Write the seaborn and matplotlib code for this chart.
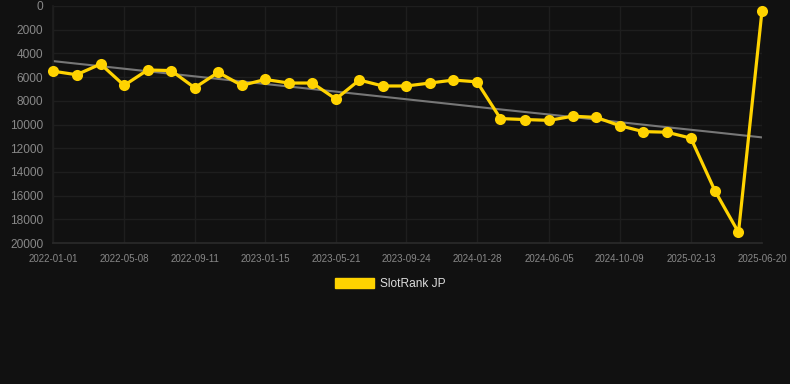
import pandas as pd
import numpy as np
import matplotlib
matplotlib.use("Agg")
import matplotlib.pyplot as plt
from matplotlib.patches import Patch
import seaborn as sns

# --- data ---
dates = [
    "2022-01-01", "2022-02-12", "2022-03-27", "2022-05-08", "2022-06-19", "2022-07-31",
    "2022-09-11", "2022-10-23", "2022-12-04", "2023-01-15", "2023-02-26", "2023-04-09",
    "2023-05-21", "2023-07-02", "2023-08-13", "2023-09-24", "2023-11-05", "2023-12-17",
    "2024-01-28", "2024-03-10", "2024-04-22", "2024-06-05", "2024-07-17", "2024-08-28",
    "2024-10-09", "2024-11-20", "2025-01-01", "2025-02-13", "2025-03-28", "2025-05-09",
    "2025-06-20",
]
rank = [
    5500, 5800, 4900, 6700, 5400, 5450,
    6900, 5600, 6700, 6200, 6500, 6500,
    7850, 6250, 6750, 6750, 6500, 6250,
    6400, 9500, 9580, 9650, 9300, 9400,
    10100, 10600, 10650, 11150, 15600, 19100,
    400,
]
tick_labels = [
    "2022-01-01", "2022-05-08", "2022-09-11", "2023-01-15", "2023-05-21", "2023-09-24",
    "2024-01-28", "2024-06-05", "2024-10-09", "2025-02-13", "2025-06-20",
]
y_ticks = [0, 2000, 4000, 6000, 8000, 10000, 12000, 14000, 16000, 18000, 20000]
series_name = "SlotRank JP"

df = pd.DataFrame({"date": pd.to_datetime(dates), "rank": rank})

# linear trend over the points
idx = np.arange(len(df))
coef = np.polyfit(idx, df["rank"], 1)
df["trend"] = np.polyval(coef, idx)

# --- style ---
BG = "#111111"
GRID = "#1e1e1e"
YELLOW = "#FFD300"
sns.set_theme(style="dark")
plt.rcParams.update({
    "figure.facecolor": BG,
    "axes.facecolor": BG,
    "savefig.facecolor": BG,
    "axes.edgecolor": GRID,
    "text.color": "#dddddd",
    "xtick.color": "#888888",
    "ytick.color": "#888888",
})
plt.rcParams["font.family"] = ["Liberation Sans", "DejaVu Sans"]

fig = plt.figure(figsize=(7.9, 3.84), dpi=100)
ax = fig.add_axes([53 / 790, 141 / 384, 709 / 790, 237 / 384])

sns.lineplot(data=df, x="date", y="trend", ax=ax, color="#777777", lw=1.5, zorder=2)
sns.lineplot(data=df, x="date", y="rank", ax=ax, color=YELLOW, lw=2.3, marker="o",
             markersize=8, markeredgewidth=0, zorder=3, clip_on=False)

ax.set_ylim(20000, 0)
ax.set_xlim(df["date"].iloc[0], df["date"].iloc[-1])
ax.set_yticks(y_ticks)
ax.set_yticklabels([str(v) for v in y_ticks], fontsize=8.6)
ax.set_xticks(pd.to_datetime(tick_labels))
ax.set_xticklabels(tick_labels, fontsize=7)
ax.set_xlabel("")
ax.set_ylabel("")

ax.grid(True, color=GRID, lw=1)
for s in ["top", "right"]:
    ax.spines[s].set_visible(False)
ax.spines["left"].set_color(GRID)
ax.spines["bottom"].set_color("#2a2a2a")
ax.tick_params(axis="x", length=6, color=GRID, pad=2)
ax.tick_params(axis="y", length=0, pad=7)

fig.legend(handles=[Patch(facecolor=YELLOW, edgecolor=YELLOW, label=series_name)],
           loc="center", bbox_to_anchor=(0.494, 1 - 284 / 384), frameon=False,
           fontsize=8.6, handlelength=3.2, handleheight=1.0, handletextpad=0.5,
           labelcolor="#dddddd")

fig.savefig("out.png", dpi=100)
